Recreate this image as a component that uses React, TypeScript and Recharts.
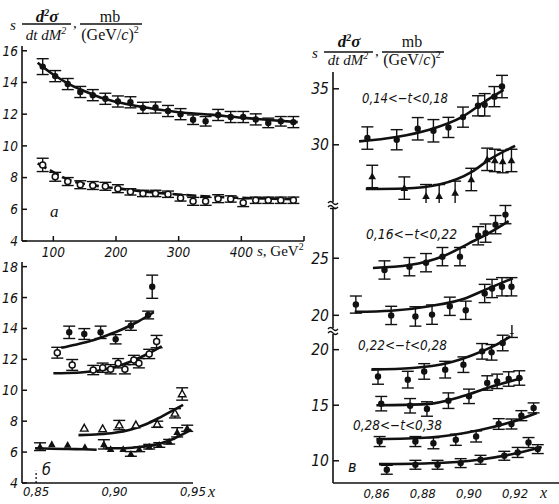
import React from "react";
import { ComposedChart, Line, Scatter, XAxis, YAxis, ErrorBar, ReferenceLine } from "recharts";

const SANS = "'DejaVu Sans Condensed', 'Liberation Sans Narrow', 'DejaVu Sans', sans-serif";
const SERIF = "'Liberation Serif', 'DejaVu Serif', serif";
const INK = "#111";

// ---- panel a: vs s ----
const sA = [83, 103, 123, 143, 163, 183, 203, 223, 243, 263, 283, 303, 323, 343, 363, 383, 403, 423, 443, 463, 483];
const upperA = [15.0, 14.4, 13.9, 13.4, 13.2, 12.97, 12.8, 12.75, 12.4, 12.42, 12.2, 12.0, 11.65, 11.55, 11.95, 11.82, 11.82, 11.67, 11.45, 11.55, 11.5];
const upperAErr = [0.5, 0.35, 0.35, 0.35, 0.35, 0.35, 0.35, 0.35, 0.35, 0.35, 0.35, 0.35, 0.3, 0.3, 0.35, 0.35, 0.35, 0.35, 0.3, 0.3, 0.35];
const lowerA = [8.8, 8.05, 7.75, 7.55, 7.5, 7.45, 7.3, 7.1, 7.0, 7.0, 6.95, 6.72, 6.5, 6.5, 6.67, 6.65, 6.42, 6.57, 6.57, 6.57, 6.57];
const lowerAErr = [0.42, 0.28, 0.25, 0.25, 0.25, 0.25, 0.25, 0.2, 0.2, 0.2, 0.2, 0.2, 0.25, 0.25, 0.25, 0.2, 0.25, 0.2, 0.2, 0.2, 0.2];
const fitSA = [75, 100, 125, 150, 175, 200, 250, 300, 350, 400, 450, 490];
const fitUpperA = [15.25, 14.5, 13.9, 13.45, 13.05, 12.78, 12.4, 12.12, 11.97, 11.78, 11.62, 11.5];
const fitLowerA = [8.9, 8.35, 7.85, 7.6, 7.45, 7.33, 7.1, 6.93, 6.8, 6.72, 6.67, 6.63];
const ticksAX = [100, 200, 300, 400, 500];
const ticksAY = [4, 6, 8, 10, 12, 14, 16];

// ---- panel б: vs x ----
const xB1 = [0.8711, 0.8807, 0.8911, 0.9007, 0.9104, 0.9214, 0.924];
const yB1 = [13.75, 13.64, 13.75, 13.3, 14.18, 14.87, 16.7];
const eB1 = [0.4, 0.35, 0.4, 0.3, 0.3, 0.25, 0.75];
const fxB1 = [0.866, 0.875, 0.885, 0.895, 0.905, 0.915, 0.925];
const fyB1 = [12.75, 12.95, 13.2, 13.55, 13.95, 14.45, 15.05];

const xB2 = [0.8635, 0.873, 0.8864, 0.8924, 0.8975, 0.9023, 0.9066, 0.9123, 0.9155, 0.9221, 0.9268];
const yB2 = [12.43, 11.64, 11.31, 11.46, 11.36, 11.75, 11.36, 11.96, 11.75, 12.35, 13.15];
const eB2 = [0.35, 0.35, 0.3, 0.3, 0.3, 0.3, 0.3, 0.3, 0.3, 0.3, 0.4];
const fxB2 = [0.861, 0.87, 0.88, 0.89, 0.9, 0.91, 0.92, 0.93];
const fyB2 = [11.1, 11.12, 11.17, 11.28, 11.5, 11.85, 12.3, 12.85];

const xB3 = [0.8807, 0.8924, 0.903, 0.9136, 0.9272, 0.9385, 0.9431];
const yB3 = [7.54, 7.5, 7.75, 7.75, 7.8, 8.51, 9.76];
const eB3 = [0, 0, 0.3, 0, 0.2, 0.3, 0.4];
const fxB3 = [0.877, 0.89, 0.9, 0.91, 0.92, 0.93, 0.9437];
const fyB3 = [7.1, 7.15, 7.25, 7.45, 7.8, 8.3, 9.05];

const xB4 = [0.8525, 0.86, 0.8701, 0.8811, 0.8932, 0.8975, 0.9055, 0.9104, 0.9157, 0.9221, 0.9285, 0.9348, 0.9399, 0.9463];
const yB4 = [6.35, 6.5, 6.46, 6.31, 6.5, 6.18, 6.18, 5.88, 6.18, 6.35, 6.46, 6.67, 7.28, 7.54];
const eB4 = [0.25, 0, 0, 0, 0.3, 0, 0, 0.15, 0.15, 0.15, 0.15, 0.15, 0.3, 0.2];
const fxB4a = [0.8493, 0.86, 0.87, 0.88, 0.8886];
const fyB4a = [6.25, 6.22, 6.2, 6.18, 6.15];
const fxB4b = [0.894, 0.905, 0.915, 0.925, 0.935, 0.949];
const fyB4b = [6.25, 6.25, 6.32, 6.45, 6.75, 7.45];
const ticksBX = [0.85, 0.9, 0.95];
const ticksBY = [4, 6, 8, 10, 12, 14, 16, 18];

// ---- panel в: four -t bins, two sets each ----
const xT1 = [0.856, 0.8687, 0.8778, 0.8846, 0.8911, 0.8974, 0.9039, 0.9068, 0.911, 0.9143];
const yT1 = [30.6, 30.45, 31.43, 31.25, 31.55, 32.47, 33.48, 33.57, 34.3, 35.2];
const eT1 = [1.0, 0.9, 1.0, 1.0, 0.9, 0.9, 0.9, 1.0, 0.9, 1.0];
const fxT1 = [0.8524, 0.8685, 0.8828, 0.8971, 0.9072, 0.915];
const fyT1 = [30.3, 30.7, 31.35, 32.5, 33.9, 34.9];

const xT2 = [0.8581, 0.872, 0.8814, 0.8871, 0.894, 0.901, 0.9079, 0.9112, 0.9146, 0.9184];
const yT2 = [27.17, 26.13, 25.4, 25.4, 25.7, 26.9, 28.7, 28.6, 28.5, 28.6];
const eT2 = [1.0, 1.0, 1.05, 1.05, 1.05, 1.0, 1.0, 1.0, 1.0, 1.0];
const fxT2 = [0.8553, 0.872, 0.8871, 0.9014, 0.9086, 0.92];
const fyT2 = [26.05, 26.1, 26.45, 27.6, 28.65, 29.9];

const xM1 = [0.8634, 0.8742, 0.8814, 0.8885, 0.8961, 0.904, 0.9072, 0.9115, 0.9158];
const yM1 = [23.97, 24.26, 24.61, 25.14, 25.14, 26.97, 27.2, 27.94, 28.82];
const eM1 = [0.8, 0.8, 0.8, 0.8, 0.8, 0.8, 0.8, 0.8, 0.8];
const fxM1 = [0.8584, 0.8742, 0.8885, 0.9, 0.9086, 0.9172];
const fyM1 = [24.15, 24.4, 25.15, 26.3, 27.2, 28.25];

const xM2 = [0.851, 0.8663, 0.8768, 0.884, 0.8917, 0.8986, 0.9068, 0.91, 0.9143, 0.9184];
const yM2 = [20.94, 19.99, 19.9, 20.06, 20.79, 20.44, 21.91, 22.35, 22.5, 22.5];
const eM2 = [0.75, 0.8, 0.85, 0.85, 0.8, 0.8, 0.8, 0.8, 0.8, 0.8];
const fxM2 = [0.8505, 0.8663, 0.8828, 0.8986, 0.9072, 0.919];
const fyM2 = [20.3, 20.4, 20.8, 21.5, 22.25, 23.25];

const xL1 = [0.8606, 0.8735, 0.8806, 0.8897, 0.8976, 0.9057, 0.9098, 0.9146, 0.9186];
const yL1 = [17.59, 17.3, 18.04, 18.2, 18.65, 19.85, 19.76, 20.6, 21.7];
const eL1 = [0.7, 0.75, 0.7, 0.75, 0.7, 0.7, 0.7, 0.7, 0.6];
const fxL1 = [0.8577, 0.8756, 0.89, 0.9014, 0.9115, 0.918];
const fyL1 = [18.2, 18.35, 18.75, 19.5, 20.4, 21.2];

const xL2 = [0.862, 0.8745, 0.8818, 0.8911, 0.9, 0.9079, 0.9122, 0.9172, 0.9218];
const yL2 = [15.14, 14.95, 14.66, 15.41, 15.8, 17.0, 17.15, 17.36, 17.45];
const eL2 = [0.65, 0.65, 0.65, 0.7, 0.65, 0.65, 0.65, 0.65, 0.65];
const fxL2 = [0.8599, 0.8814, 0.8971, 0.9086, 0.9232];
const fyL2 = [15.0, 15.1, 15.8, 16.6, 17.45];

const xL3 = [0.8613, 0.8768, 0.8846, 0.8943, 0.9031, 0.9129, 0.9184, 0.9227, 0.928];
const yL3 = [11.73, 11.73, 11.58, 11.89, 12.19, 13.31, 13.31, 14.06, 14.76];
const eL3 = [0.45, 0.45, 0.5, 0.5, 0.5, 0.48, 0.45, 0.45, 0.45];
const fxL3 = [0.8599, 0.8828, 0.9043, 0.9186, 0.9294];
const fyL3 = [11.95, 12.1, 12.75, 13.5, 14.3];

const xL4 = [0.8644, 0.8768, 0.8864, 0.8964, 0.905, 0.9153, 0.9211, 0.9258, 0.9298];
const yL4 = [9.19, 9.64, 9.64, 9.79, 10.09, 10.45, 10.75, 11.64, 11.05];
const eL4 = [0.4, 0.4, 0.4, 0.4, 0.4, 0.4, 0.45, 0.45, 0.4];
const fxL4 = [0.861, 0.8828, 0.9043, 0.92, 0.9315];
const fyL4 = [9.7, 9.78, 10.1, 10.65, 11.25];

const ticksVX = [0.86, 0.88, 0.9, 0.92];
const domVX = [0.8411, 0.939];

type P = { x: number; y: number; e?: number };
const zip = (xs: number[], ys: number[], es?: number[]): P[] =>
  xs.map((x, i) => ({ x, y: ys[i], e: es ? es[i] : undefined }));

const dot = (p: any) => <circle cx={p.cx} cy={p.cy} r={3.2} fill={INK} />;
const ring = (p: any) => <circle cx={p.cx} cy={p.cy} r={3} fill="#fff" stroke={INK} strokeWidth={1.5} />;
const tri = (p: any) => (
  <path d={`M${p.cx},${p.cy - 4}L${p.cx + 3.8},${p.cy + 2.8}L${p.cx - 3.8},${p.cy + 2.8}Z`} fill={INK} />
);
const triOpen = (p: any) => (
  <path d={`M${p.cx},${p.cy - 4}L${p.cx + 3.8},${p.cy + 2.8}L${p.cx - 3.8},${p.cy + 2.8}Z`} fill="#fff" stroke={INK} strokeWidth={1.4} />
);

const scat = (id: string, data: P[], shape: any) => (
  <Scatter key={id} data={data} dataKey="y" shape={shape} isAnimationActive={false}>
    <ErrorBar dataKey="e" direction="y" width={6} stroke={INK} strokeWidth={1.4} isAnimationActive={false} />
  </Scatter>
);
const fit = (id: string, data: P[], dash?: string) => (
  <Line key={id} data={data} dataKey="y" type="monotone" dot={false} activeDot={false} stroke={INK}
    strokeWidth={2.6} strokeDasharray={dash} isAnimationActive={false} />
);

const tick = (fs: number) => ({ fill: INK, fontSize: fs, fontStyle: "italic", fontFamily: SANS });
const axLine = { stroke: INK, strokeWidth: 1.6 };
const tkLine = { stroke: INK, strokeWidth: 1.5 };
const comma = (v: number) => v.toFixed(2).replace(".", ",");

function Title({ x, y, up, down }: { x: number; y: number; up: number; down: number }) {
  return (
    <g transform={`translate(${x},${y})`} fontFamily={SERIF} fill={INK}>
      <text x={0} y={6} fontSize={15} fontStyle="italic">s</text>
      <text x={37} y={up} fontSize={17} fontStyle="italic" fontWeight="bold" textAnchor="middle">
        d<tspan fontSize={10} dy={-6}>2</tspan><tspan dy={6}>σ</tspan>
      </text>
      <line x1={12} x2={61} y1={0} y2={0} stroke={INK} strokeWidth={1.3} />
      <text x={36} y={down} fontSize={15} fontStyle="italic" textAnchor="middle">
        dt dM<tspan fontSize={10} dy={-6}>2</tspan>
      </text>
      <text x={63} y={4} fontSize={15}>,</text>
      <text x={100} y={up} fontSize={16} textAnchor="middle">mb</text>
      <line x1={70} x2={132} y1={0} y2={0} stroke={INK} strokeWidth={1.3} />
      <text x={100} y={down} fontSize={16} textAnchor="middle">
        (GeV/<tspan fontStyle="italic">c</tspan>)<tspan fontSize={10} dy={-7}>2</tspan>
      </text>
    </g>
  );
}

function Brk({ y }: { y: number }) {
  return (
    <g stroke={INK} strokeWidth={1.3} fill="none">
      <path d={`M328,${y - 2} q2.5,-3 5,0 t5,0`} />
      <path d={`M328,${y + 2} q2.5,-3 5,0 t5,0`} />
    </g>
  );
}

const abs = (left: number, top: number): React.CSSProperties => ({ position: "absolute", left, top });

export default function App() {
  const lbl = { fontFamily: SANS, fontStyle: "italic" as const, fontSize: 14, fill: INK };
  return (
    <div style={{ position: "absolute", left: 0, top: 0, width: 559, height: 504, background: "#fff", overflow: "hidden" }}>
      {/* panel a */}
      <div style={abs(0, 0)}>
        <ComposedChart width={330} height={266} margin={{ top: 46, right: 26, bottom: 4, left: 0 }}>
          <XAxis type="number" dataKey="x" domain={[50, 500]} ticks={ticksAX} interval={0} allowDataOverflow
            tickFormatter={(v: number) => (v === 500 ? "" : String(v))} axisLine={axLine} tickLine={tkLine}
            tickSize={-5} tickMargin={11} height={21} tick={tick(13.5)} />
          <YAxis type="number" dataKey="y" domain={[4, 16.3]} ticks={ticksAY} interval={0} allowDataOverflow
            width={22} axisLine={axLine} tickLine={tkLine} tickSize={-5} tickMargin={9} tick={tick(13.5)} />
          {fit("fua", zip(fitSA, fitUpperA))}
          {fit("fla", zip(fitSA, fitLowerA), "10 4")}
          {scat("ua", zip(sA, upperA, upperAErr), dot)}
          {scat("la", zip(sA, lowerA, lowerAErr), ring)}
        </ComposedChart>
      </div>

      {/* panel б */}
      <div style={abs(0, 250)}>
        <ComposedChart width={230} height={254} margin={{ top: 12, right: 37, bottom: 1, left: 0 }}>
          <XAxis type="number" dataKey="x" domain={[0.841, 0.95]} ticks={ticksBX} interval={0} allowDataOverflow
            tickFormatter={comma} axisLine={axLine} tickLine={false} tickSize={0} tickMargin={4} height={20} tick={tick(13)} />
          <YAxis type="number" dataKey="y" domain={[4, 18.3]} ticks={ticksBY} interval={0} allowDataOverflow
            width={22} axisLine={axLine} tickLine={tkLine} tickSize={-5} tickMargin={9} tick={tick(14)} />
          <ReferenceLine segment={[{ x: 0.85, y: 4 }, { x: 0.85, y: 4.8 }]} stroke={INK} strokeWidth={1.3} strokeDasharray="2 2" />
          {fit("fb1", zip(fxB1, fyB1))}
          {fit("fb2", zip(fxB2, fyB2))}
          {fit("fb3", zip(fxB3, fyB3))}
          {fit("fb4a", zip(fxB4a, fyB4a))}
          {fit("fb4b", zip(fxB4b, fyB4b))}
          {scat("b1", zip(xB1, yB1, eB1), dot)}
          {scat("b2", zip(xB2, yB2, eB2), ring)}
          {scat("b3", zip(xB3, yB3, eB3), triOpen)}
          {scat("b4", zip(xB4, yB4, eB4), tri)}
        </ComposedChart>
      </div>

      {/* panel в, upper segment */}
      <div style={abs(280, 60)}>
        <ComposedChart width={279} height={143} margin={{ top: 12, right: 0, bottom: 0, left: 0 }}>
          <XAxis type="number" dataKey="x" domain={domVX} hide allowDataOverflow />
          <YAxis type="number" dataKey="y" domain={[24.8, 36.5]} ticks={[30, 35]} interval={0} allowDataOverflow
            width={53} axisLine={axLine} tickLine={tkLine} tickSize={-6} tickMargin={10} tick={tick(15.5)} />
          {fit("ft1", zip(fxT1, fyT1))}
          {fit("ft2", zip(fxT2, fyT2))}
          {scat("t1", zip(xT1, yT1, eT1), dot)}
          {scat("t2", zip(xT2, yT2, eT2), tri)}
        </ComposedChart>
      </div>

      {/* panel в, middle segment */}
      <div style={abs(280, 200)}>
        <ComposedChart width={279} height={129} margin={{ top: 8, right: 0, bottom: 0, left: 0 }}>
          <XAxis type="number" dataKey="x" domain={domVX} hide allowDataOverflow />
          <YAxis type="number" dataKey="y" domain={[18.8, 29.4]} ticks={[20, 25]} interval={0} allowDataOverflow
            width={53} axisLine={axLine} tickLine={tkLine} tickSize={-6} tickMargin={10} tick={tick(15.5)} />
          {fit("fm1", zip(fxM1, fyM1))}
          {fit("fm2", zip(fxM2, fyM2))}
          {scat("m1", zip(xM1, yM1, eM1), dot)}
          {scat("m2", zip(xM2, yM2, eM2), dot)}
        </ComposedChart>
      </div>

      {/* panel в, lower segment */}
      <div style={abs(280, 325)}>
        <ComposedChart width={279} height={179} margin={{ top: 8, right: 0, bottom: 1, left: 0 }}>
          <XAxis type="number" dataKey="x" domain={domVX} ticks={ticksVX} interval={0} allowDataOverflow
            tickFormatter={comma} axisLine={axLine} tickLine={false} tickSize={0} tickMargin={6} height={20} tick={tick(13)} />
          <YAxis type="number" dataKey="y" domain={[8.0, 21.5]} ticks={[10, 15, 20]} interval={0} allowDataOverflow
            width={53} axisLine={axLine} tickLine={tkLine} tickSize={-6} tickMargin={10} tick={tick(15.5)} />
          {fit("fl1", zip(fxL1, fyL1))}
          {fit("fl2", zip(fxL2, fyL2))}
          {fit("fl3", zip(fxL3, fyL3))}
          {fit("fl4", zip(fxL4, fyL4))}
          {scat("l1", zip(xL1, yL1, eL1), dot)}
          {scat("l2", zip(xL2, yL2, eL2), dot)}
          {scat("l3", zip(xL3, yL3, eL3), dot)}
          {scat("l4", zip(xL4, yL4, eL4), dot)}
        </ComposedChart>
      </div>

      {/* titles and annotations */}
      <svg width={559} height={504} style={{ position: "absolute", left: 0, top: 0, pointerEvents: "none" }}>
        <Title x={10} y={24} up={-2} down={16} />
        <Title x={312} y={52} up={-5} down={13} />
        <text x={257} y={256} fontFamily={SERIF} fontSize={15} fill={INK}>
          <tspan fontStyle="italic">s</tspan>, GeV<tspan fontSize={10} dy={-6}>2</tspan>
        </text>
        <text x={50} y={217} fontFamily={SERIF} fontStyle="italic" fontSize={17} fill={INK}>a</text>
        <text x={42} y={475} {...lbl} fontSize={16}>б</text>
        <text x={348} y={472} {...lbl} fontSize={16}>в</text>
        <text x={208} y={497} fontFamily={SERIF} fontStyle="italic" fontSize={16} fill={INK}>x</text>
        <text x={540} y={498} fontFamily={SERIF} fontStyle="italic" fontSize={16} fill={INK}>x</text>
        <text x={362} y={103} {...lbl} textLength={86} lengthAdjust="spacingAndGlyphs">0,14&lt;−t&lt;0,18</text>
        <text x={366} y={239} {...lbl} textLength={91} lengthAdjust="spacingAndGlyphs">0,16&lt;−t&lt;0,22</text>
        <text x={358} y={350} {...lbl} textLength={89} lengthAdjust="spacingAndGlyphs">0,22&lt;−t&lt;0,28</text>
        <text x={353} y={430} {...lbl} textLength={89} lengthAdjust="spacingAndGlyphs">0,28&lt;−t&lt;0,38</text>
        <rect x={329} y={202} width={8} height={7} fill="#fff" />
        <Brk y={205} />
        <line x1={330} x2={336} y1={208.5} y2={208.5} stroke={INK} strokeWidth={1.4} />
        <rect x={329} y={328} width={8} height={6} fill="#fff" />
        <Brk y={331} />
      </svg>
    </div>
  );
}
